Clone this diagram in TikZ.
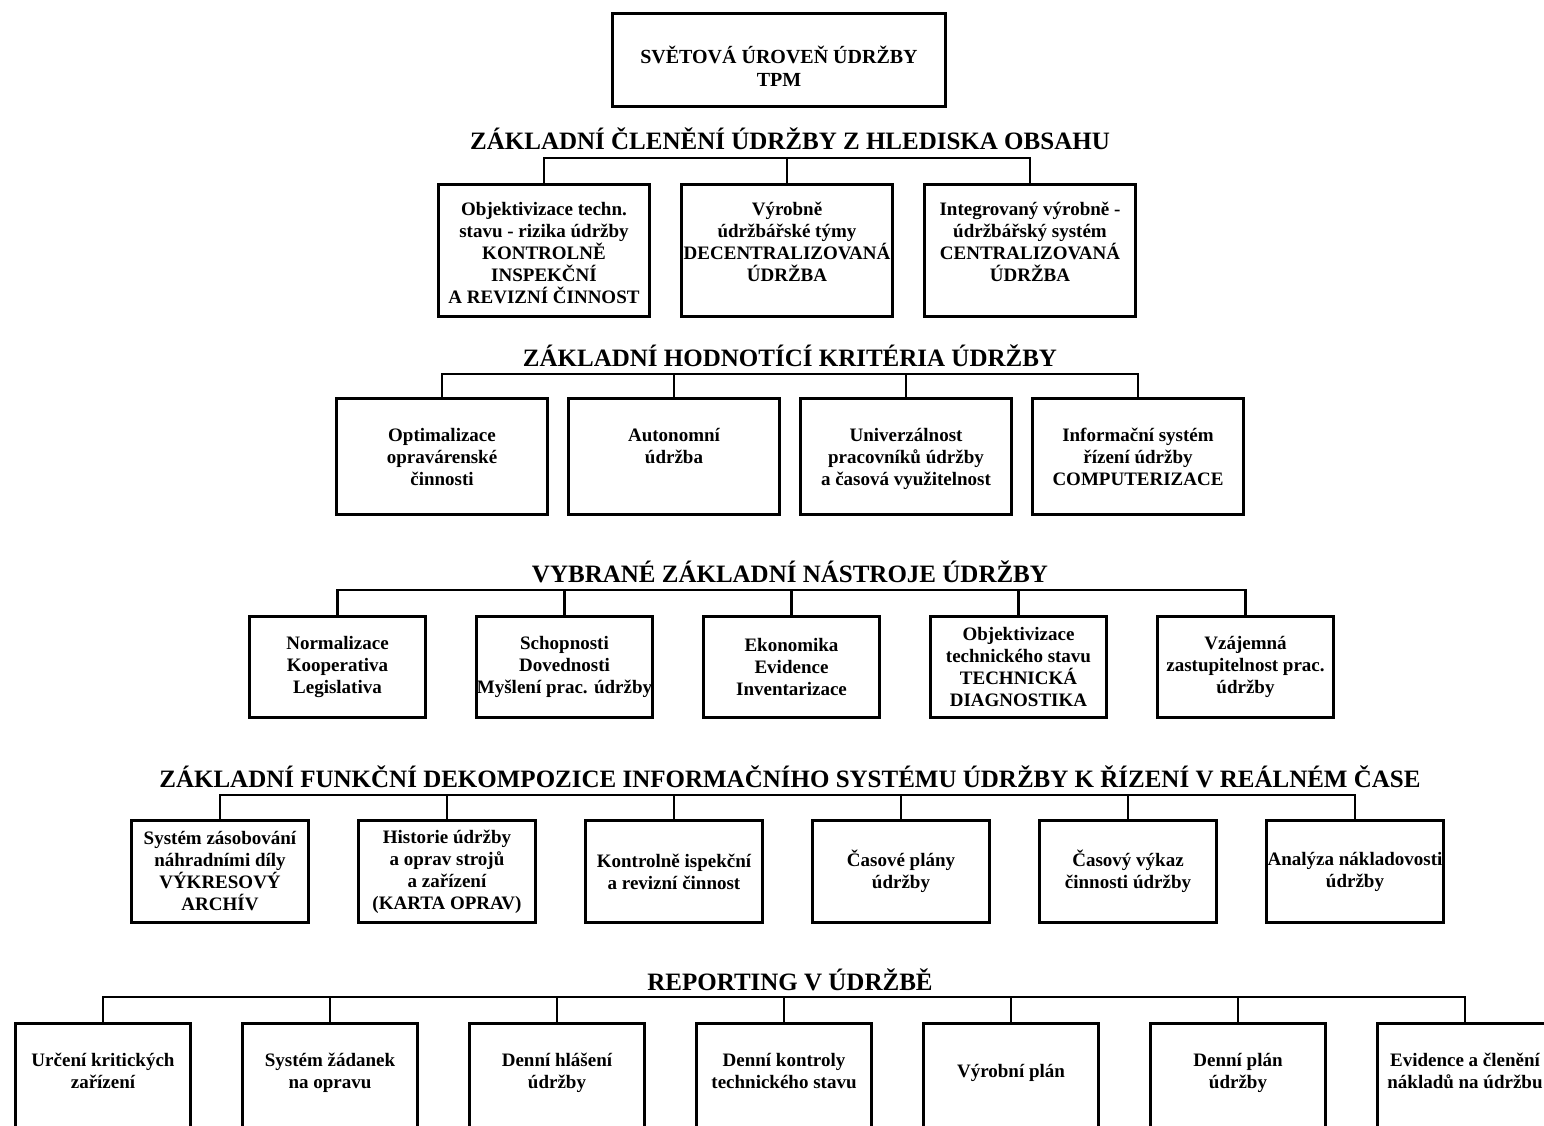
\documentclass[tikz,border=0pt]{standalone}
\usepackage{fontspec}
\setmainfont{Liberation Serif}
\usetikzlibrary{
	positioning
}
\tikzset{
	box/.style={
		draw=black,
		line width=3pt,
		rectangle,
		inner sep=0pt,
		align=center,
		font=\fontsize{19}{22}\selectfont\bfseries
	},
	boxobsah/.style={box, minimum width=211pt, minimum height=132pt},
	boxkrit/.style={box, minimum width=211pt, minimum height=116pt},
	boxnastr/.style={box, minimum width=176pt, minimum height=101pt},
	boxfunk/.style={box, minimum width=177pt, minimum height=102pt},
	boxrep/.style={box, minimum width=175pt, minimum height=130pt},
	boxtext/.style={
		inner sep=0pt,
		align=center,
		font=\fontsize{19}{22}\selectfont\bfseries
	},
	heading/.style={
		inner sep=0pt,
		anchor=base,
		font=\fontsize{25}{30}\selectfont\bfseries
	},
	bus/.style={
		draw=black,
		line width=2.6pt
	}
}
\begin{document}
\begin{tikzpicture}[x=1pt,y=-1pt]
	\useasboundingbox (0,0) rectangle (1544,1125);
	\clip (0,0) rectangle (1544,1125);
	
	% Top
	\node[box, minimum width=333pt, minimum height=93pt] (tpm) at (779,60) {};
	\node[boxtext, font=\fontsize{20}{23}\selectfont\bfseries] (tpm-t) at (779,66)
	{SVĚTOVÁ ÚROVEŇ ÚDRŽBY\\TPM};
	
	% Level 1: content
	\node[heading] (obsah) at (790,149) {ZÁKLADNÍ ČLENĚNÍ ÚDRŽBY Z HLEDISKA OBSAHU};
	\coordinate (bus1) at (787,158);
	\coordinate (row1) at (0,202);
	
	\node[boxobsah] (kontr) at (544,250.5) {};
	\node[boxobsah, right=29pt of kontr] (decen) {};
	\node[boxobsah, right=29pt of decen] (centr) {};
	
	\node[boxtext, anchor=north] (kontr-t) at (kontr.north |- row1)
	{Objektivizace techn.\\stavu - rizika údržby\\KONTROLNĚ\\INSPEKČNÍ\\A REVIZNÍ ČINNOST};
	\node[boxtext, anchor=north] (decen-t) at (decen.north |- row1)
	{Výrobně\\údržbářské týmy\\DECENTRALIZOVANÁ\\ÚDRŽBA};
	\node[boxtext, anchor=north] (centr-t) at (centr.north |- row1)
	{Integrovaný výrobně -\\údržbářský systém\\CENTRALIZOVANÁ\\ÚDRŽBA};
	
	% Level 2: criteria
	\node[heading] (krit) at (790,366) {ZÁKLADNÍ HODNOTÍCÍ KRITÉRIA ÚDRŽBY};
	\coordinate (bus2) at (790,374);
	\coordinate (row2) at (0,428);
	
	\node[boxkrit] (optim) at (442,456.5) {};
	\node[boxkrit, right=18pt of optim] (auton) {};
	\node[boxkrit, right=18pt of auton] (univ) {};
	\node[boxkrit, right=18pt of univ] (infsys) {};
	
	\node[boxtext, anchor=north] (optim-t) at (optim.north |- row2)
	{Optimalizace\\opravárenské\\činnosti};
	\node[boxtext, anchor=north] (auton-t) at (auton.north |- row2)
	{Autonomní\\údržba};
	\node[boxtext, anchor=north] (univ-t) at (univ.north |- row2)
	{Univerzálnost\\pracovníků údržby\\a časová využitelnost};
	\node[boxtext, anchor=north] (infsys-t) at (infsys.north |- row2)
	{Informační systém\\řízení údržby\\COMPUTERIZACE};
	
	% Level 3: tools
	\node[heading] (nastr) at (790,582) {VYBRANÉ ZÁKLADNÍ NÁSTROJE ÚDRŽBY};
	\coordinate (bus3) at (790,590);
	
	\node[boxnastr] (norm) at (337.5,667) {Normalizace\\Kooperativa\\Legislativa};
	\node[boxnastr, right=48pt of norm] (schop) {Schopnosti\\Dovednosti\\Myšlení prac. údržby};
	\node[boxnastr, right=48pt of schop] (ekon) {Ekonomika\\Evidence\\Inventarizace};
	\node[boxnastr, right=48pt of ekon] (diag) {Objektivizace\\technického stavu\\TECHNICKÁ\\DIAGNOSTIKA};
	\node[boxnastr, right=48pt of diag] (zast) {Vzájemná\\zastupitelnost prac.\\údržby};
	
	% Level 4: information system
	\node[heading] (funk) at (790,787)
	{ZÁKLADNÍ FUNKČNÍ DEKOMPOZICE INFORMAČNÍHO SYSTÉMU ÚDRŽBY K ŘÍZENÍ V REÁLNÉM ČASE};
	\coordinate (bus4) at (790,795);
	
	\node[boxfunk] (zasob) at (220,871.5) {Systém zásobování\\náhradními díly\\VÝKRESOVÝ\\ARCHÍV};
	\node[boxfunk, right=47pt of zasob] (hist) {Historie údržby\\a oprav strojů\\a zařízení\\(KARTA OPRAV)};
	\node[boxfunk, right=47pt of hist] (kontrol) {Kontrolně ispekční\\a revizní činnost};
	\node[boxfunk, right=47pt of kontrol] (casplan) {Časové plány\\údržby};
	\node[boxfunk, right=47pt of casplan] (casvyk) {Časový výkaz\\činnosti údržby};
	\node[boxfunk, right=47pt of casvyk] (naklad) {Analýza nákladovosti\\údržby};
	
	% Level 5: reporting
	\node[heading] (report) at (790,990) {REPORTING V ÚDRŽBĚ};
	\coordinate (bus5) at (784,997);
	\coordinate (row5) at (0,1053);
	
	\node[boxrep] (urc) at (103,1088.5) {};
	\node[boxrep, right=49pt of urc] (zad) {};
	\node[boxrep, right=49pt of zad] (hlas) {};
	\node[boxrep, right=49pt of hlas] (dkon) {};
	\node[boxrep, right=49pt of dkon] (vplan) {};
	\node[boxrep, right=49pt of vplan] (dplan) {};
	\node[boxrep, right=49pt of dplan] (evid) {};
	
	\node[boxtext, anchor=north] (urc-t) at (urc.north |- row5) {Určení kritických\\zařízení};
	\node[boxtext, anchor=north] (zad-t) at (zad.north |- row5) {Systém žádanek\\na opravu};
	\node[boxtext, anchor=north] (hlas-t) at (hlas.north |- row5) {Denní hlášení\\údržby};
	\node[boxtext, anchor=north] (dkon-t) at (dkon.north |- row5) {Denní kontroly\\technického stavu};
	\node[boxtext, anchor=north, yshift=-11pt] (vplan-t) at (vplan.north |- row5) {Výrobní plán};
	\node[boxtext, anchor=north] (dplan-t) at (dplan.north |- row5) {Denní plán\\údržby};
	\node[boxtext, anchor=north] (evid-t) at (evid.north |- row5) {Evidence a členění\\nákladů na údržbu};
	
	% Connectors
	\draw[bus] (kontr.north) |- (bus1) -| (centr.north);
	\draw[bus] (decen.north) -- (decen.north |- bus1);
	
	\draw[bus] (optim.north) |- (bus2) -| (infsys.north);
	\draw[bus] (auton.north) -- (auton.north |- bus2);
	\draw[bus] (univ.north) -- (univ.north |- bus2);
	
	\draw[bus] (norm.north) |- (bus3) -| (zast.north);
	\draw[bus] (schop.north) -- (schop.north |- bus3);
	\draw[bus] (ekon.north) -- (ekon.north |- bus3);
	\draw[bus] (diag.north) -- (diag.north |- bus3);
	
	\draw[bus] (zasob.north) |- (bus4) -| (naklad.north);
	\draw[bus] (hist.north) -- (hist.north |- bus4);
	\draw[bus] (kontrol.north) -- (kontrol.north |- bus4);
	\draw[bus] (casplan.north) -- (casplan.north |- bus4);
	\draw[bus] (casvyk.north) -- (casvyk.north |- bus4);
	
	\draw[bus] (urc.north) |- (bus5) -| (evid.north);
	\draw[bus] (zad.north) -- (zad.north |- bus5);
	\draw[bus] (hlas.north) -- (hlas.north |- bus5);
	\draw[bus] (dkon.north) -- (dkon.north |- bus5);
	\draw[bus] (vplan.north) -- (vplan.north |- bus5);
	\draw[bus] (dplan.north) -- (dplan.north |- bus5);
	
\end{tikzpicture}
\end{document}
